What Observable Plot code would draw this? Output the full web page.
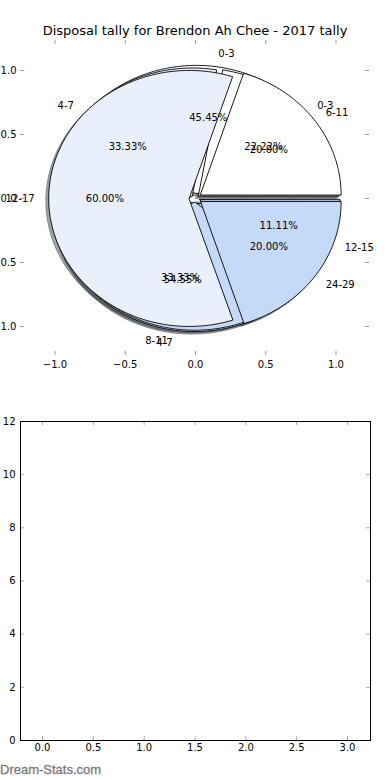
<!DOCTYPE html>
<html><head><meta charset="utf-8">
<script src="https://cdn.jsdelivr.net/npm/d3@7"></script>
<script src="https://cdn.jsdelivr.net/npm/@observablehq/plot@0.6"></script>
<style>
body{margin:0;background:#fff;width:390px;height:780px;position:relative;overflow:hidden;font-family:"DejaVu Sans",sans-serif;}
#p1{position:absolute;left:0;top:0;}
#p2{position:absolute;left:0;top:400px;}
#wm{position:absolute;left:0;top:762px;font:13px "Liberation Sans",Arial,sans-serif;color:#7a7a7a;-webkit-text-stroke:0.3px #7a7a7a;}
</style></head><body>
<div id="p1"></div><div id="p2"></div><div id="wm">Dream-Stats.com</div>
<script>
const title = "Disposal tally for Brendon Ah Chee - 2017 tally";
// three overlaid pies (drawn bottom to top)
const pieALabels = ["0-3", "4-7"];
const pieAValues = [5, 6];
const pieCLabels = ["0-3", "4-7", "8-11", "12-15"];
const pieCValues = [2, 3, 3, 1];
const pieBLabels = ["6-11", "12-17", "24-29"];
const pieBValues = [1, 3, 1];
const pieExplode = [0.04, 0.03, 0.045];
const wedgeColors = ["#ffffff", "#e9f0fc", "#c5d9f9", "#a8c4f2"];
const pieTicks = [-1, -0.5, 0, 0.5, 1];
const barXTicks = [0, 0.5, 1, 1.5, 2, 2.5, 3];
const barYTicks = [0, 2, 4, 6, 8, 10, 12];

function pieGeom(labels, values, explode) {
  const total = d3.sum(values);
  let a0 = 0;
  return values.map((v, i) => {
    const a1 = a0 + v / total * 360;
    const mid = (a0 + a1) / 2 * Math.PI / 180;
    const cx = explode * Math.cos(mid), cy = explode * Math.sin(mid);
    const pts = [{x: cx, y: cy}];
    const n = Math.max(2, Math.ceil(a1 - a0));
    for (let k = 0; k <= n; k++) {
      const t = (a0 + (a1 - a0) * k / n) * Math.PI / 180;
      pts.push({x: cx + Math.cos(t), y: cy + Math.sin(t)});
    }
    const w = {label: labels[i], pct: v / total * 100, color: wedgeColors[i], pts,
      lx: cx + 1.1 * Math.cos(mid), ly: cy + 1.1 * Math.sin(mid),
      px: cx + 0.6 * Math.cos(mid), py: cy + 0.6 * Math.sin(mid)};
    a0 = a1;
    return w;
  });
}
function shade(c) { const r = d3.rgb(c); return d3.rgb(r.r * 0.3, r.g * 0.3, r.b * 0.3).formatHex(); }

const pies = [
  pieGeom(pieALabels, pieAValues, pieExplode[0]),
  pieGeom(pieCLabels, pieCValues, pieExplode[1]),
  pieGeom(pieBLabels, pieBValues, pieExplode[2])
];
const allW = pies.flat();

const xDom = [-1.2456, 1.2384], yDom = [-1.227, 1.234];
const tx = 4 / 140.5, ty = 4 / 128;
const marks = [];
for (const w of allW) marks.push(Plot.line(w.pts.map(p => ({x: p.x - 0.02, y: p.y - 0.02})),
  {x: "x", y: "y", curve: "linear-closed", fill: shade(w.color), fillOpacity: 0.5, stroke: shade(w.color), strokeOpacity: 0.5, strokeWidth: 1}));
for (const w of allW) marks.push(Plot.line(w.pts,
  {x: "x", y: "y", curve: "linear-closed", fill: w.color, stroke: "black", strokeWidth: 0.9}));
marks.push(Plot.ruleX(pieTicks, {x: d => d, y1: yDom[0], y2: yDom[0] + ty, stroke: "#999"}));
marks.push(Plot.ruleX(pieTicks, {x: d => d, y1: yDom[1], y2: yDom[1] - ty, stroke: "#999"}));
marks.push(Plot.ruleY(pieTicks, {y: d => d, x1: xDom[0], x2: xDom[0] + tx, stroke: "#999"}));
marks.push(Plot.ruleY(pieTicks, {y: d => d, x1: xDom[1], x2: xDom[1] - tx, stroke: "#999"}));
marks.push(Plot.axisX(pieTicks, {tickSize: 0, tickPadding: 5, tickFormat: d3.format(".1f"), label: null}));
marks.push(Plot.axisY(pieTicks, {tickSize: 0, tickPadding: 4, tickFormat: d3.format(".1f"), label: null}));
marks.push(Plot.text(allW.filter(w => w.lx > 0), {x: "lx", y: "ly", text: "label", textAnchor: "start", fill: "black"}));
marks.push(Plot.text(allW.filter(w => w.lx <= 0), {x: "lx", y: "ly", text: "label", textAnchor: "end", fill: "black"}));
marks.push(Plot.text(allW, {x: "px", y: "py", text: w => d3.format(".2f")(w.pct) + "%", fill: "black"}));
marks.push(Plot.text([title], {frameAnchor: "top", dy: -10, lineAnchor: "middle", fontSize: 13, fill: "black"}));

const p1 = Plot.plot({
  width: 390, height: 390, marginTop: 40, marginBottom: 35, marginLeft: 20, marginRight: 21,
  x: {domain: xDom, label: null}, y: {domain: yDom, label: null},
  style: {fontFamily: "DejaVu Sans", fontSize: "10px", background: "white", color: "black", overflow: "visible"},
  marks
});
document.getElementById("p1").appendChild(p1);

const bxDom = [-0.2164, 3.226], byDom = [0, 12];
const btx = 4 / 101.67, bty = 4 / (319 / 12);
const p2 = Plot.plot({
  width: 390, height: 380, marginTop: 21, marginBottom: 40, marginLeft: 20, marginRight: 20,
  x: {domain: bxDom, label: null}, y: {domain: byDom, label: null},
  style: {fontFamily: "DejaVu Sans", fontSize: "10px", background: "white", color: "black", overflow: "visible"},
  marks: [
    Plot.ruleX(barXTicks, {x: d => d, y1: byDom[0], y2: byDom[0] + bty, stroke: "#aaa"}),
    Plot.ruleX(barXTicks, {x: d => d, y1: byDom[1], y2: byDom[1] - bty, stroke: "#aaa"}),
    Plot.ruleY(barYTicks, {y: d => d, x1: bxDom[0], x2: bxDom[0] + btx, stroke: "#aaa"}),
    Plot.ruleY(barYTicks, {y: d => d, x1: bxDom[1], x2: bxDom[1] - btx, stroke: "#aaa"}),
    Plot.frame({stroke: "black"}),
    Plot.axisX(barXTicks, {tickSize: 0, tickPadding: 3, tickFormat: d3.format(".1f"), label: null}),
    Plot.axisY(barYTicks, {tickSize: 0, tickPadding: 5, tickFormat: d3.format("d"), label: null})
  ]
});
document.getElementById("p2").appendChild(p2);
</script>
</body></html>
